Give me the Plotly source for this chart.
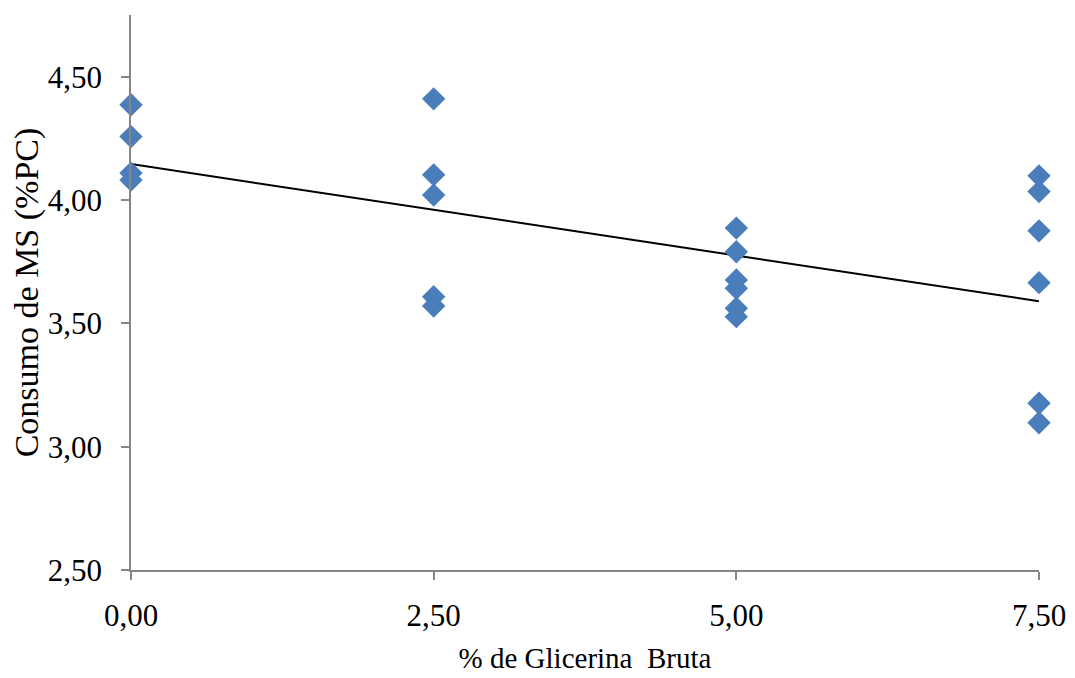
import numpy as np
import plotly.graph_objects as go

# Data
glicerina_pct = [0.0, 0.0, 0.0, 0.0,
                 2.5, 2.5, 2.5, 2.5, 2.5,
                 5.0, 5.0, 5.0, 5.0, 5.0, 5.0,
                 7.5, 7.5, 7.5, 7.5, 7.5, 7.5]
consumo_ms = [4.386, 4.257, 4.109, 4.081,
              4.410, 4.102, 4.020, 3.608, 3.570,
              3.886, 3.790, 3.676, 3.642, 3.561, 3.527,
              4.098, 4.034, 3.875, 3.665, 3.176, 3.097]

x_tickvals = [0.0, 2.5, 5.0, 7.5]
x_ticktext = ["0,00", "2,50", "5,00", "7,50"]
y_tickvals = [2.5, 3.0, 3.5, 4.0, 4.5]
y_ticktext = ["2,50", "3,00", "3,50", "4,00", "4,50"]

# Linear trend line (least squares)
slope, intercept = np.polyfit(glicerina_pct, consumo_ms, 1)
trend_x = [min(glicerina_pct), max(glicerina_pct)]
trend_y = [intercept + slope * v for v in trend_x]

serif = "Liberation Serif, Times New Roman, serif"
axis_gray = "#868686"

fig = go.Figure()
fig.add_trace(go.Scatter(
    x=trend_x, y=trend_y, mode="lines",
    line=dict(color="black", width=2),
    showlegend=False, hoverinfo="skip", cliponaxis=False,
))
fig.add_trace(go.Scatter(
    x=glicerina_pct, y=consumo_ms, mode="markers",
    marker=dict(symbol="diamond", size=18, color="#4a7ebb",
                line=dict(width=0)),
    showlegend=False, cliponaxis=False,
))

# page body has an 8px default margin, so the figure is offset by 8px
fig.update_layout(
    width=1067, height=670,
    margin=dict(l=123, r=36, t=7, b=108, autoexpand=False),
    paper_bgcolor="white", plot_bgcolor="white",
    font=dict(family=serif, color="black", size=31),
    xaxis=dict(
        range=[0, 7.5], tickvals=x_tickvals, ticktext=x_ticktext,
        showgrid=False, zeroline=False, automargin=False,
        showline=True, linecolor=axis_gray, linewidth=1.5,
        ticks="outside", ticklen=8, tickwidth=1.5, tickcolor=axis_gray,
        tickfont=dict(size=31, family=serif), ticklabelstandoff=9,
        title=dict(text="% de Glicerina\u00a0 Bruta",
                   font=dict(size=29, family=serif), standoff=16),
    ),
    yaxis=dict(
        range=[2.5, 4.75], tickvals=y_tickvals, ticktext=y_ticktext,
        showgrid=False, zeroline=False, automargin=False,
        showline=True, linecolor=axis_gray, linewidth=1.5,
        ticks="outside", ticklen=8, tickwidth=1.5, tickcolor=axis_gray,
        tickfont=dict(size=31, family=serif), ticklabelstandoff=13,
        title=dict(text="Consumo de MS (%PC)",
                   font=dict(size=34, family=serif), standoff=9),
    ),
)

fig.write_html("out.html")
